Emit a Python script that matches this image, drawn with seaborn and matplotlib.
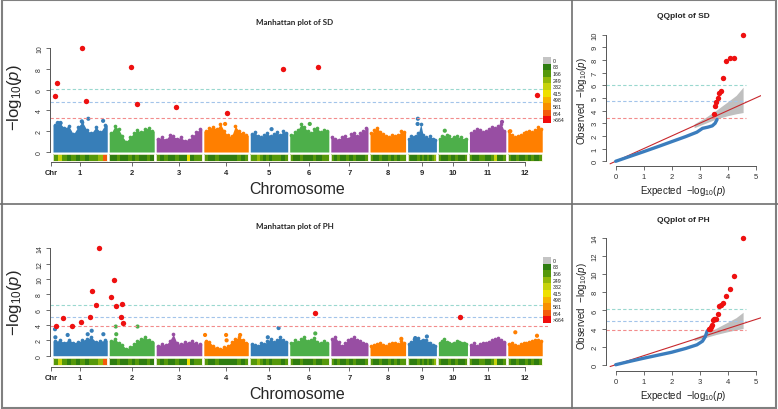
import numpy as np
import pandas as pd
import matplotlib
matplotlib.use("Agg")
import matplotlib.pyplot as plt
from matplotlib.lines import Line2D
from matplotlib.patches import Rectangle
import seaborn as sns

sns.set_style("white")
plt.rcParams['font.family'] = ['Liberation Sans', 'DejaVu Sans']
plt.rcParams['mathtext.fontset'] = 'custom'
plt.rcParams['mathtext.rm'] = 'Liberation Sans'
plt.rcParams['mathtext.it'] = 'Liberation Sans:italic'

W, H = 778, 410

# ---------------- data ----------------
chrom_names = ['1', '2', '3', '4', '5', '6', '7', '8', '9', '10', '11', '12']
chrom_len = [43.3, 35.9, 36.4, 35.5, 29.9, 31.2, 29.7, 28.4, 23.0, 23.2, 29.0, 27.5]  # Mb
chrom_colors = ['#377EB8', '#4DAF4A', '#984EA3', '#FF7F00']

# upper edge of the SNP cloud (-log10 p) in 12 windows per chromosome
sd_cloud = [
    [2.6, 2.8, 2.3, 2.5, 1.7, 2.4, 2.9, 2.1, 1.8, 2.4, 1.9, 2.6],
    [1.8, 2.5, 2.2, 1.5, 1.0, 1.4, 1.8, 2.1, 1.9, 2.2, 2.3, 2.0],
    [1.3, 1.4, 1.2, 1.6, 1.5, 1.3, 1.4, 1.1, 1.2, 1.5, 1.9, 2.2],
    [2.0, 2.3, 2.4, 2.2, 2.7, 2.0, 1.6, 1.5, 2.5, 2.0, 1.8, 1.6],
    [1.7, 1.9, 1.5, 1.4, 1.6, 1.8, 1.5, 1.7, 1.9, 1.6, 2.0, 1.8],
    [1.6, 1.9, 2.1, 2.7, 2.4, 2.0, 1.8, 2.2, 2.3, 1.9, 2.1, 2.0],
    [1.4, 1.3, 1.2, 1.4, 1.5, 1.3, 1.7, 1.8, 1.5, 1.8, 2.0, 2.3],
    [1.8, 2.1, 2.3, 1.9, 1.7, 1.5, 1.4, 1.6, 1.5, 1.6, 2.0, 1.9],
    [1.3, 1.5, 1.4, 1.5, 1.8, 2.7, 1.6, 1.4, 1.3, 1.5, 1.3, 1.2],
    [1.3, 1.5, 1.4, 1.6, 1.5, 1.3, 1.4, 1.5, 1.3, 1.4, 1.2, 1.3],
    [1.8, 2.0, 2.2, 2.1, 1.9, 2.0, 2.2, 2.4, 2.3, 2.5, 2.7, 2.0],
    [2.0, 1.6, 1.4, 1.5, 1.6, 1.8, 1.9, 2.0, 1.9, 2.1, 2.4, 2.2],
]
ph_cloud = [
    [1.9, 2.0, 1.7, 2.1, 1.7, 1.8, 2.0, 2.2, 2.4, 1.8, 1.9, 2.0],
    [1.9, 2.2, 1.7, 1.4, 0.9, 1.1, 1.5, 1.9, 2.2, 2.4, 2.1, 1.8],
    [1.3, 1.5, 1.4, 1.9, 2.8, 1.6, 1.5, 1.8, 1.7, 1.9, 1.6, 1.5],
    [1.9, 1.8, 1.3, 1.0, 0.9, 1.1, 1.3, 1.8, 2.2, 2.4, 2.1, 1.7],
    [1.5, 1.4, 1.3, 1.7, 1.5, 1.9, 2.2, 1.8, 2.0, 2.4, 2.0, 1.8],
    [1.7, 2.0, 1.8, 2.2, 2.4, 1.9, 2.1, 2.3, 1.8, 1.7, 1.9, 1.6],
    [2.2, 2.4, 1.8, 1.3, 1.6, 2.0, 2.2, 2.5, 2.0, 1.9, 1.7, 1.5],
    [1.3, 1.4, 1.5, 1.6, 1.4, 1.3, 1.5, 1.6, 1.7, 1.5, 1.9, 1.6],
    [1.5, 1.8, 2.2, 2.0, 2.3, 1.9, 2.1, 2.0, 1.7, 1.6, 1.4, 1.3],
    [1.6, 1.9, 2.2, 1.8, 1.6, 1.5, 1.7, 1.9, 1.8, 1.7, 1.6, 1.5],
    [1.4, 1.6, 1.3, 1.5, 1.7, 1.6, 1.8, 2.0, 2.2, 2.3, 2.1, 1.8],
    [1.5, 1.6, 1.4, 1.3, 1.5, 1.6, 1.7, 1.8, 1.9, 2.0, 2.1, 1.9],
]

# single SNPs above the cloud
sd_extra_chr = [1, 1, 1, 1, 1, 4, 5, 6, 9, 9, 10, 11, 12]
sd_extra_pos = [3.8, 6.0, 23.0, 28.2, 40.0, 17.0, 17.0, 16.0, 8.2, 8.0, 5.1, 26.0, 2.0]
sd_extra_val = [2.8, 2.8, 2.95, 3.2, 3.0, 2.7, 2.2, 2.7, 3.2, 2.7, 2.05, 2.9, 2.0]
ph_extra_chr = [1, 1, 1, 1, 1, 1, 2, 2, 2, 4, 4, 4, 4, 5, 5, 6, 8, 9, 9, 12, 12]
ph_extra_pos = [1.6, 1.9, 11.7, 27.7, 30.9, 40.2, 5.2, 5.6, 22.6, 1.0, 17.8, 18.2, 29.0,
                22.6, 14.0, 20.4, 25.0, 6.1, 15.4, 6.0, 23.3]
ph_extra_val = [3.45, 2.4, 2.7, 2.8, 3.25, 2.8, 3.8, 2.8, 3.8, 2.7, 2.7, 2.0, 2.7,
                3.6, 2.4, 2.9, 2.2, 2.3, 2.5, 3.05, 2.6]

# significant SNPs (red)
sd_sig_chr = [1, 1, 1, 1, 2, 2, 3, 4, 5, 6, 12]
sd_sig_pos = [1.6, 3.2, 23.2, 26.4, 17.4, 22.0, 15.9, 18.6, 26.0, 22.8, 23.6]
sd_sig_val = [5.4, 6.6, 10.0, 4.9, 8.2, 4.6, 4.35, 3.75, 8.0, 8.15, 5.5]
ph_sig_chr = [1, 1, 1, 1, 1, 1, 1, 1, 2, 2, 2, 2, 2, 2, 6, 10]
ph_sig_pos = [2.2, 8.2, 14.9, 22.6, 29.3, 31.4, 34.1, 37.0, 1.2, 3.6, 5.2, 10.2, 9.2, 11.0, 20.4, 17.4]
ph_sig_val = [3.9, 4.9, 3.9, 4.35, 5.0, 8.4, 6.55, 14.0, 7.6, 9.8, 6.5, 6.75, 5.0, 4.2, 5.6, 5.1]

# threshold lines (top, middle, bottom)
thr_colors = ['#9ad8cf', '#a3c4ea', '#f28c8c']
sd_manh_thr = [6.06, 4.84, 3.27]
ph_manh_thr = [6.6, 5.0, 3.83]
sd_qq_thr = [6.0, 4.75, 3.4]
ph_qq_thr = [6.15, 4.8, 3.87]

# SNP density per window (counts per 1 Mb)
snp_density = [
    [120, 300, 90, 60, 140, 70, 100, 60, 150, 90, 200, 600],
    [70, 60, 110, 50, 60, 90, 60, 130, 70, 60, 100, 80],
    [100, 60, 140, 70, 60, 90, 70, 60, 350, 70, 110, 130],
    [140, 70, 60, 90, 60, 50, 60, 80, 60, 120, 70, 140],
    [150, 90, 180, 100, 70, 120, 60, 90, 150, 110, 70, 160],
    [100, 60, 70, 110, 60, 70, 60, 90, 60, 70, 140, 90],
    [130, 60, 90, 60, 70, 100, 60, 110, 60, 80, 70, 150],
    [140, 70, 60, 110, 60, 70, 100, 60, 90, 60, 120, 100],
    [160, 80, 60, 70, 120, 60, 90, 70, 100, 60, 130, 170],
    [120, 60, 80, 60, 110, 60, 70, 90, 60, 80, 60, 140],
    [110, 70, 60, 90, 150, 70, 60, 100, 330, 70, 80, 130],
    [140, 60, 80, 110, 60, 70, 90, 60, 110, 70, 60, 150],
]
dens_breaks = [0, 83, 166, 249, 332, 415, 498, 581, 664]
dens_labels = ['0', '83', '166', '249', '332', '415', '498', '581', '664', '>664']
dens_colors = ['#c4c4c4', '#2f7d10', '#56980a', '#93b80a', '#c6d20c', '#efe000',
               '#f6b400', '#f79000', '#f45a0c', '#f00c0c']

# QQ plots
sd_qq_exp = [0.0, 0.5, 1.0, 1.5, 2.0, 2.5, 2.9, 3.1, 3.3, 3.45, 3.55, 3.62]
sd_qq_obs = [0.0, 0.38, 0.76, 1.15, 1.55, 1.95, 2.3, 2.6, 2.7, 2.8, 3.0, 3.3]
sd_qq_sig_exp = [4.54, 4.24, 4.07, 3.94, 3.85, 3.77, 3.70, 3.64, 3.59, 3.54, 3.50]
sd_qq_sig_obs = [10.0, 8.16, 8.13, 7.95, 6.6, 5.58, 5.4, 5.0, 4.7, 4.35, 3.75]
ph_qq_exp = [0.0, 0.5, 1.0, 1.5, 2.0, 2.5, 2.9, 3.1, 3.2, 3.27]
ph_qq_obs = [0.0, 0.37, 0.72, 1.05, 1.38, 1.8, 2.2, 2.6, 3.1, 3.75]
ph_qq_sig_exp = [4.54, 4.24, 4.07, 3.94, 3.85, 3.77, 3.70, 3.64, 3.59, 3.54, 3.50, 3.46, 3.43, 3.40, 3.37, 3.34]
ph_qq_sig_obs = [14.0, 9.85, 8.4, 7.6, 6.8, 6.6, 6.5, 5.6, 5.1, 5.0, 5.0, 4.9, 4.35, 4.2, 3.95, 3.9]
sd_band_x = [2.8, 3.2, 3.6, 4.0, 4.3, 4.55]
sd_band_lo = [2.65, 3.0, 3.35, 3.6, 3.75, 3.85]
sd_band_hi = [2.95, 3.45, 4.05, 4.7, 5.2, 5.85]
ph_band_x = [2.8, 3.2, 3.6, 4.0, 4.3, 4.55]
ph_band_lo = [2.65, 3.0, 3.35, 3.65, 3.85, 4.0]
ph_band_hi = [2.95, 3.45, 4.05, 4.7, 5.2, 5.8]

# ---------------- layout helpers ----------------
gap = 1.6
starts = []
s = 0.0
for L in chrom_len:
    starts.append(s)
    s += L + gap
centers = [st + L / 2 for st, L in zip(starts, chrom_len)]
genome_end = starts[-1] + chrom_len[-1]


def rect(l, t, r, b):
    return [l / W, 1 - b / H, (r - l) / W, (b - t) / H]


def gx(chroms, pos):
    return [starts[c - 1] + p for c, p in zip(chroms, pos)]


fig = plt.figure(figsize=(W / 100, H / 100), dpi=100)

tick_col = '#555555'


def manhattan(ax, cloud, ex, sig, thr, ylim, ymax, ystep, strip):
    for i, vals in enumerate(cloud):
        st, L = starts[i], chrom_len[i]
        n = len(vals)
        xs = st + (np.arange(n) + 0.5) * L / n
        xp = np.concatenate([[st], xs, [st + L]])
        yp = np.concatenate([[vals[0]], vals, [vals[-1]]])
        col = chrom_colors[i % 4]
        ax.fill_between(xp, 0, yp, color=col, lw=0)
        ax.scatter(xs, vals, s=7, color=col, lw=0)
        # density strip
        for j, d in enumerate(snp_density[i]):
            k = 0 if d == 0 else min(np.searchsorted(dens_breaks, d), 9)
            ax.bar(st + j * L / n, strip[1] - strip[0], width=L / n, bottom=strip[0],
                   align='edge', color=dens_colors[k], lw=0)
        ax.add_patch(Rectangle((st, strip[0]), L, strip[1] - strip[0], fill=False,
                               edgecolor='#f2f2dc', lw=0.6))
    c, p, v = ex
    ex_df = pd.DataFrame({'x': gx(c, p), 'y': v,
                          'col': [chrom_colors[(k - 1) % 4] for k in c]})
    ax.scatter(ex_df['x'], ex_df['y'], s=9, c=ex_df['col'], lw=0)
    for t, tc in zip(thr, thr_colors):
        ax.axhline(t, color=tc, lw=0.8, ls=(0, (3, 2)))
    c, p, v = sig
    sig_df = pd.DataFrame({'x': gx(c, p), 'y': v})
    sns.scatterplot(data=sig_df, x='x', y='y', ax=ax, color='#ee1010', s=15,
                    linewidth=0, legend=False, zorder=5)
    ax.set_xlim(-2.4, genome_end + 4.6)
    ax.set_ylim(*ylim)
    for sp in ['top', 'right']:
        ax.spines[sp].set_visible(False)
    ax.spines['left'].set_bounds(0, ymax)
    ax.spines['bottom'].set_bounds(-1.6, centers[-1])
    for sp in ['left', 'bottom']:
        ax.spines[sp].set_color(tick_col)
        ax.spines[sp].set_linewidth(0.7)
    yt = np.arange(0, ymax + 0.1, ystep)
    ax.set_yticks(yt)
    ax.set_yticklabels([f'{int(t)}' for t in yt], rotation=90, va='center',
                       fontsize=5, color='#333333')
    ax.set_xticks([-1.6] + centers)
    ax.set_xticklabels(['Chr'] + chrom_names, fontsize=5.5, fontweight='bold')
    ax.tick_params(axis='both', length=3, width=0.6, color=tick_col, pad=2,
                   left=True, bottom=True, direction='out')
    ax.set_xlabel('')
    ax.set_ylabel('')


def qq(ax, exp, obs, sexp, sobs, bx, blo, bhi, thr, ylim, ymax, ystep):
    ax.fill_between(bx, blo, bhi, color='#b8b8b8', lw=0, alpha=0.9)
    for t, tc in zip(thr, thr_colors):
        ax.plot([-0.35, 4.65], [t, t], color=tc, lw=0.8, ls=(0, (3, 2)))
    ax.plot([-0.2, 5.2], [-0.2, 5.2], color='#c8282d', lw=0.8)
    line_df = pd.DataFrame({'e': exp, 'o': obs})
    sns.lineplot(data=line_df, x='e', y='o', ax=ax, sort=False, color='#3b7dbd',
                 lw=2.4, solid_capstyle='round')
    sig_df = pd.DataFrame({'e': sexp, 'o': sobs})
    sns.scatterplot(data=sig_df, x='e', y='o', ax=ax, color='#ee1010', s=15,
                    linewidth=0, legend=False, zorder=5)
    ax.set_xlim(-0.35, 5.2)
    ax.set_ylim(*ylim)
    for sp in ['top', 'right']:
        ax.spines[sp].set_visible(False)
    ax.spines['left'].set_bounds(0, ymax)
    ax.spines['bottom'].set_bounds(0, 5)
    for sp in ['left', 'bottom']:
        ax.spines[sp].set_color(tick_col)
        ax.spines[sp].set_linewidth(0.7)
    yt = np.arange(0, ymax + 0.1, ystep)
    ax.set_yticks(yt)
    ax.set_yticklabels([f'{int(t)}' for t in yt], rotation=90, va='center',
                       fontsize=5.5, color='#333333')
    ax.set_xticks(range(6))
    ax.set_xticklabels([str(i) for i in range(6)], fontsize=5.5, color='#333333')
    ax.tick_params(axis='both', length=3, width=0.6, color=tick_col, pad=2,
                   left=True, bottom=True, direction='out')
    ax.set_xlabel('')
    ax.set_ylabel('')


def dens_legend(top):
    lax = fig.add_axes(rect(543, top, 551, top + 66))
    lax.imshow(np.arange(10).reshape(-1, 1), aspect='auto',
               cmap=matplotlib.colors.ListedColormap(dens_colors))
    lax.set_axis_off()
    for i, lab in enumerate(dens_labels):
        fig.text(552.5 / W, 1 - (top + 3.3 + i * 6.6) / H, lab, fontsize=3.8,
                 va='center', ha='left', color='#222222')


# ---------------- top row: SD ----------------
ax1 = fig.add_axes(rect(50, 40, 548, 163))
manhattan(ax1, sd_cloud, (sd_extra_chr, sd_extra_pos, sd_extra_val),
          (sd_sig_chr, sd_sig_pos, sd_sig_val), sd_manh_thr,
          (-0.96, 10.87), 10, 2, (-0.87, -0.19))
dens_legend(58)

ax2 = fig.add_axes(rect(605.9, 31.9, 761.3, 166.7))
qq(ax2, sd_qq_exp, sd_qq_obs, sd_qq_sig_exp, sd_qq_sig_obs,
   sd_band_x, sd_band_lo, sd_band_hi, sd_qq_thr, (-0.35, 10.3), 10, 1)

# ---------------- bottom row: PH ----------------
ax3 = fig.add_axes(rect(50, 240, 548, 368.3))
manhattan(ax3, ph_cloud, (ph_extra_chr, ph_extra_pos, ph_extra_val),
          (ph_sig_chr, ph_sig_pos, ph_sig_val), ph_manh_thr,
          (-1.51, 15.2), 14, 2, (-1.17, -0.3))
dens_legend(258)

ax4 = fig.add_axes(rect(605.9, 233.6, 761.3, 371.7))
qq(ax4, ph_qq_exp, ph_qq_obs, ph_qq_sig_exp, ph_qq_sig_obs,
   ph_band_x, ph_band_lo, ph_band_hi, ph_qq_thr, (-0.66, 14.6), 14, 2)

# ---------------- texts ----------------
ylab = r'$-\mathrm{log}_{10}(\mathit{p})$'
for off, trait in [(0, 'SD'), (205, 'PH')]:
    fig.text(295 / W, 1 - (off + 22) / H, f'Manhattan plot of {trait}', fontsize=5.8,
             fontweight='bold', ha='center', va='center', family='Lato')
    fig.text(683 / W, 1 - (off + 16) / H, f'QQplot of {trait}', fontsize=6,
             fontweight='bold', ha='center', va='center')
    fig.text(297 / W, 1 - (off + 190) / H, 'Chromosome', fontsize=11.5,
             ha='center', va='center')
    fig.text(15 / W, 1 - (off + 98) / H, ylab, fontsize=12, rotation=90,
             ha='center', va='center')
    fig.text(683 / W, 1 - (off + 191) / H, r'Expected  $-\mathrm{log}_{10}(\mathit{p})$',
             fontsize=7, ha='center', va='center', color='#222222')
    fig.text(582 / W, 1 - (off + 101) / H, r'Observed  $-\mathrm{log}_{10}(\mathit{p})$',
             fontsize=7, rotation=90, ha='center', va='center', color='#222222')

# panel frames
fig.add_artist(Rectangle((0.002, 0.003), 0.996, 0.994, transform=fig.transFigure,
                         fill=False, edgecolor='#808080', lw=1.5))
fig.add_artist(Line2D([572 / W, 572 / W], [0, 1], transform=fig.transFigure,
                      color='#707070', lw=1.2))
fig.add_artist(Line2D([0, 1], [1 - 204.5 / H, 1 - 204.5 / H], transform=fig.transFigure,
                      color='#707070', lw=1.2))

fig.savefig('out.png', dpi=100)
